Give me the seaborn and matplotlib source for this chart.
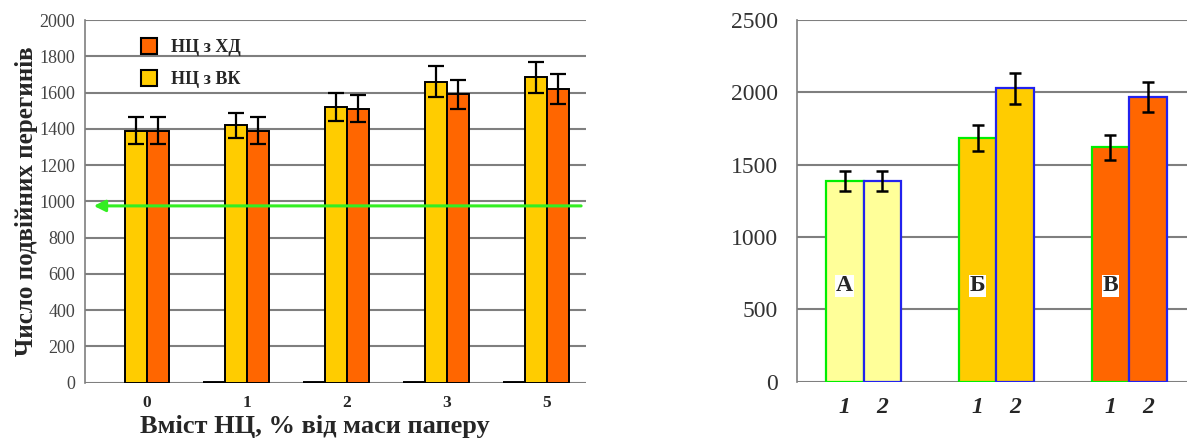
import numpy as np
import pandas as pd
import seaborn as sns
import matplotlib.pyplot as plt
from matplotlib.patches import Patch
from matplotlib.colors import to_hex
from matplotlib.transforms import blended_transform_factory

# left chart: content of NC, % of paper mass
content = ["0", "1", "2", "3", "5"]
vk_mean = [1390, 1420, 1520, 1660, 1685]
vk_err = [73, 70, 77, 86, 85]
hd_mean = [1390, 1390, 1510, 1590, 1620]
hd_err = [73, 73, 75, 78, 83]
base_mean = [np.nan, 0, 0, 0, 0]
threshold = 975

# right chart
groups = ["А", "Б", "В"]
s1_mean = [1387, 1686, 1620]
s1_err = [69, 88, 85]
s2_mean = [1387, 2028, 1970]
s2_err = [69, 106, 105]
group_colors = ["#FFFF99", "#FFCC00", "#FF6600"]
bar_labels = ["1", "2"]

YELLOW = "#FFCC00"
ORANGE = "#FF6600"

sns.set_style("white")
plt.rcParams['font.family'] = ['Liberation Serif', 'DejaVu Serif']

fig = plt.figure(figsize=(11.87, 4.41), dpi=100)
ax1 = fig.add_axes([0.0716, 0.1322, 0.422, 0.8224])
ax2 = fig.add_axes([0.6715, 0.1345, 0.336, 0.82])

# ---------- left chart ----------
left = pd.DataFrame({
    "content": content * 4,
    "series": ["base"] * 5 + ["НЦ з ВК"] * 5 + ["НЦ з ХД"] * 5 + ["pad"] * 5,
    "value": base_mean + vk_mean + hd_mean + [0] * 5,
}).dropna()

pal = {"base": "#000000", "НЦ з ВК": YELLOW, "НЦ з ХД": ORANGE, "pad": "#FFFFFF"}
sns.barplot(data=left, x="content", y="value", hue="series",
            hue_order=["base", "НЦ з ВК", "НЦ з ХД", "pad"], order=content,
            palette=pal, saturation=1, width=0.88, errorbar=None, legend=False,
            edgecolor="black", linewidth=1.4, ax=ax1)

errs = {to_hex(YELLOW).lower(): vk_err, to_hex(ORANGE).lower(): hd_err}
for bar in ax1.patches:
    fc = to_hex(bar.get_facecolor()).lower()
    if fc == "#ffffff":
        bar.set_visible(False)
        continue
    if fc == "#000000":
        bar.set_linewidth(2.8)
        continue
    xc = bar.get_x() + bar.get_width() / 2
    idx = int(round(xc))
    ax1.errorbar(xc, bar.get_height(), yerr=errs[fc][idx], color="black",
                 capsize=5.5, elinewidth=1.6, capthick=1.6, zorder=5)

ax1.set_ylim(0, 2000)
ax1.set_xlim(-0.62, 4.39)
ax1.set_yticks(range(0, 2001, 200))
ax1.yaxis.grid(True, color="#7f7f7f", linewidth=1.5)
ax1.set_axisbelow(True)
for s in ["top", "right", "bottom"]:
    ax1.spines[s].set_visible(False)
ax1.spines["left"].set_color("#7f7f7f")
ax1.spines["left"].set_linewidth(1.2)
ax1.tick_params(axis="y", length=5, color="#7f7f7f", width=1.5, labelsize=13,
                labelcolor="#444444", pad=2)
ax1.tick_params(axis="x", length=0, labelsize=12.5, pad=9)
for t in ax1.get_xticklabels():
    t.set_fontweight("bold")
ax1.set_xlabel("Вміст НЦ, % від маси паперу", fontsize=19, fontweight="bold")
ax1.xaxis.set_label_coords(0.458, -0.09)
ax1.set_ylabel("Число подвійних перегинів", fontsize=18, fontweight="bold", labelpad=1)

trans = blended_transform_factory(ax1.transAxes, ax1.transData)
ax1.annotate("", xy=(0.012, threshold), xytext=(0.996, threshold),
             xycoords=trans, textcoords=trans,
             arrowprops=dict(arrowstyle="-|>", color="#33EE22", lw=2.2,
                             mutation_scale=17), zorder=4)

handles = [Patch(facecolor=ORANGE, edgecolor="black", linewidth=1.5, label="НЦ з ХД"),
           Patch(facecolor=YELLOW, edgecolor="black", linewidth=1.5, label="НЦ з ВК")]
ax1.legend(handles=handles, loc="upper left", bbox_to_anchor=(0.08, 0.995),
           frameon=False, handlelength=0.85, handleheight=1.0, labelspacing=0.75,
           handletextpad=0.8, prop={"weight": "bold", "size": 13})

# ---------- right chart ----------
right = pd.DataFrame({
    "group": groups * 2,
    "bar": ["1"] * 3 + ["2"] * 3,
    "value": s1_mean + s2_mean,
})
sns.barplot(data=right, x="group", y="value", hue="bar", order=groups,
            palette=["#00EE00", "#2222EE"], width=0.57, errorbar=None,
            legend=False, linewidth=1.6, ax=ax2)

centers = []
for bar in ax2.patches:
    xc = bar.get_x() + bar.get_width() / 2
    g = int(round(xc))
    first = xc < g
    bar.set_edgecolor("#00EE00" if first else "#2222EE")
    bar.set_facecolor(group_colors[g])
    err = s1_err[g] if first else s2_err[g]
    ax2.errorbar(xc, bar.get_height(), yerr=err, color="black", capsize=4.5,
                 elinewidth=1.8, capthick=1.8, zorder=5)
    centers.append((xc, first))
    if first:
        ax2.text(xc, 0.265, groups[g], transform=blended_transform_factory(ax2.transData, ax2.transAxes),
                 ha="center", va="center", fontsize=17, fontweight="bold",
                 bbox=dict(facecolor="white", edgecolor="none", pad=0.5), zorder=6)

centers.sort()
ax2.set_xticks([c for c, _ in centers])
ax2.set_xticklabels([bar_labels[0] if f else bar_labels[1] for _, f in centers],
                    fontsize=17, fontweight="bold", fontstyle="italic")
ax2.set_xlim(-0.5, 2.5)
ax2.set_ylim(0, 2500)
ax2.set_yticks(range(0, 2501, 500))
ax2.yaxis.grid(True, color="#7f7f7f", linewidth=1.5)
ax2.set_axisbelow(True)
for s in ["top", "right", "bottom"]:
    ax2.spines[s].set_visible(False)
ax2.spines["left"].set_color("#7f7f7f")
ax2.spines["left"].set_linewidth(1.2)
ax2.tick_params(axis="y", length=7, color="#7f7f7f", width=1.5, labelsize=17,
                labelcolor="#333333", pad=7)
ax2.tick_params(axis="x", length=0, pad=11)
ax2.set_xlabel("")
ax2.set_ylabel("")

fig.savefig("out.png", dpi=100)
